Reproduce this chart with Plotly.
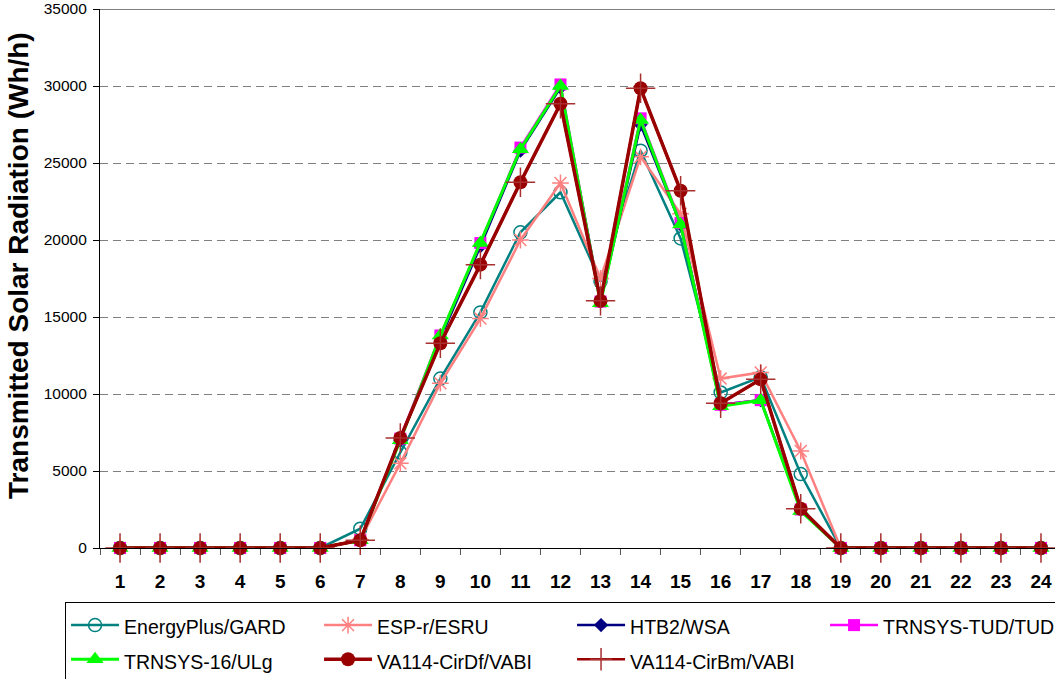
import plotly.graph_objects as go

hours = list(range(1, 25))
hour_labels = [str(h) for h in hours]

energyplus = [0, 0, 0, 0, 0, 0, 1250, 6200, 11000, 15300, 20500, 23100, 17300, 25800, 20100, 10100, 11100, 4800, 0, 0, 0, 0, 0, 0]
esp_r = [0, 0, 0, 0, 0, 0, 550, 5500, 10700, 14900, 20000, 23700, 17500, 25400, 21700, 11000, 11400, 6300, 0, 0, 0, 0, 0, 0]
htb2 = [0, 0, 0, 0, 0, 0, 500, 7000, 13600, 19600, 25800, 29900, 16000, 27500, 21000, 9300, 9600, 2500, 0, 0, 0, 0, 0, 0]
trnsys_tud = [0, 0, 0, 0, 0, 0, 500, 7100, 13800, 19800, 26000, 30100, 16000, 27900, 21100, 9300, 9600, 2500, 0, 0, 0, 0, 0, 0]
trnsys_16 = [0, 0, 0, 0, 0, 0, 500, 7000, 13800, 19800, 25900, 30000, 15900, 27800, 21000, 9200, 9600, 2400, 0, 0, 0, 0, 0, 0]
va114_df = [0, 0, 0, 0, 0, 0, 500, 7150, 13300, 18400, 23750, 28850, 16050, 29850, 23200, 9400, 10950, 2550, 0, 0, 0, 0, 0, 0]
va114_bm = [0, 0, 0, 0, 0, 0, 500, 7150, 13300, 18400, 23750, 28850, 16050, 29850, 23200, 9400, 10950, 2550, 0, 0, 0, 0, 0, 0]

y_ticks = [0, 5000, 10000, 15000, 20000, 25000, 30000, 35000]

FONT = "Liberation Sans, Arial, sans-serif"

series = [
    ("EnergyPlus/GARD", energyplus, "#008080", 2.5, dict(symbol="circle-open", size=13, color="#008080", line=dict(width=1.5, color="#008080"))),
    ("ESP-r/ESRU", esp_r, "#FF8080", 2.5, dict(symbol="asterisk-open", size=14, color="#FF8080", line=dict(width=1.5, color="#FF8080"))),
    ("HTB2/WSA", htb2, "#000080", 2.5, dict(symbol="diamond", size=11, color="#000080", line=dict(width=0))),
    ("TRNSYS-TUD/TUD", trnsys_tud, "#FF00FF", 2.5, dict(symbol="square", size=12, color="#FF00FF", line=dict(width=0))),
    ("TRNSYS-16/ULg", trnsys_16, "#00FF00", 3, dict(symbol="triangle-up", size=15, color="#00FF00", line=dict(width=0))),
    ("VA114-CirDf/VABI", va114_df, "#990000", 3.5, dict(symbol="circle", size=14, color="#990000", line=dict(width=0))),
    ("VA114-CirBm/VABI", va114_bm, "#990000", 2.5, dict(symbol="cross-thin-open", size=21, color="#A83030", line=dict(width=1.5, color="#A83030"))),
]

fig = go.Figure()
for name, vals, color, lw, marker in series:
    fig.add_trace(go.Scatter(
        x=hours, y=vals, mode="lines+markers",
        name='<span style="font-size:19.5px">' + name + '</span>',
        line=dict(color=color, width=lw), marker=marker, cliponaxis=False,
    ))

fig.add_shape(type="line", xref="paper", yref="y", x0=-0.006, x1=1, y0=35000, y1=35000,
              line=dict(color="black", width=1.2))

fig.add_annotation(
    text="Transmitted Solar Radiation (Wh/h)", textangle=-90,
    xref="paper", yref="paper", x=-0.0859, y=0.525, xanchor="center", yanchor="middle",
    showarrow=False, font=dict(size=28, family=FONT, weight="bold", color="black"),
)

fig.update_layout(
    width=1055, height=679,
    margin=dict(l=100, r=0, t=9, b=131, autoexpand=False),
    paper_bgcolor="white", plot_bgcolor="white",
    font=dict(family=FONT, color="black"),
    showlegend=True,
    legend=dict(
        orientation="h", x=-0.0366, y=-0.1002, xanchor="left", yanchor="top",
        bordercolor="black", borderwidth=1, bgcolor="white",
        font=dict(size=24, family=FONT),
        entrywidth=190, itemwidth=48, tracegroupgap=0,
    ),
    xaxis=dict(
        range=[0.5, 24.35], tickmode="array", tickvals=hours, ticktext=hour_labels,
        ticks="outside", ticklen=16, tickcolor="rgba(0,0,0,0)",
        showgrid=False, zeroline=False,
        showline=True, linecolor="black", linewidth=1.2,
        tickfont=dict(size=19, family=FONT, weight="bold"),
        minor=dict(tick0=0.5, dtick=1, ticks="outside", ticklen=6, tickcolor="#555555", tickwidth=1, showgrid=False),
    ),
    yaxis=dict(
        range=[0, 35000], tickmode="array", tickvals=y_ticks, ticktext=[str(v) for v in y_ticks],
        ticks="outside", ticklen=6, tickcolor="black", ticklabelstandoff=3,
        showgrid=True, gridcolor="#808080", gridwidth=1, griddash="8px,5px",
        zeroline=False, showline=True, linecolor="black", linewidth=1.2,
        tickfont=dict(size=15.5, family=FONT),
    ),
)

fig.write_html("out.html", config={"displayModeBar": False},
               post_script="document.body.style.margin='0';document.body.style.overflow='hidden';")
